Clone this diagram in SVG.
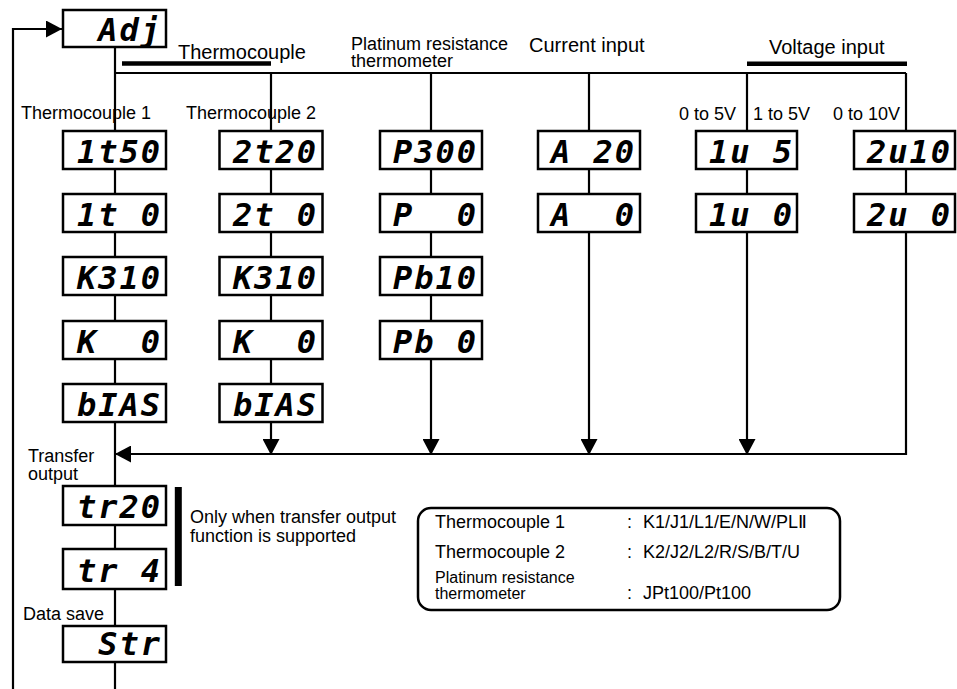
<svg xmlns="http://www.w3.org/2000/svg" width="957" height="689" viewBox="0 0 957 689">
<style>
.disp{fill:#fff;stroke:#000;stroke-width:2.5}
.seg{font-family:'DejaVu Sans Mono','Liberation Mono',monospace;font-weight:bold;font-style:oblique;font-size:32px;letter-spacing:2px;white-space:pre;fill:#000}
.lbl{font-family:'Liberation Sans',Arial,Helvetica,sans-serif;font-size:18px;fill:#000}
.big{font-size:20px}
.sm{font-size:16px}
.ln{fill:none;stroke:#000;stroke-width:2.2}
.arr{marker-end:url(#ah)}
.bar{stroke:#000;fill:none}
</style>
<defs>
<marker id="ah" markerUnits="userSpaceOnUse" markerWidth="16" markerHeight="17" viewBox="0 0 16 17" refX="16" refY="8.5" orient="auto"><path d="M0,0 L16,8.5 L0,17 Z" fill="#000"/></marker>
</defs>
<rect width="957" height="689" fill="#fff"/>

<g id="connectors">
<path class="ln arr" d="M13,689 V29 H62"/>
<path class="ln" d="M115,47 V131"/>
<path class="ln" d="M115,73 H906"/>
<path class="ln" d="M271,73 V131 M431,73 V131 M589,73 V131 M747,73 V131 M906,73 V131"/>
<path class="ln" d="M115,169 V194 M115,232 V257 M115,295 V321 M115,359 V384 M115,422 V486 M115,525 V549 M115,589 V626 M115,662 V689"/>
<path class="ln" d="M271,169 V194 M271,232 V257 M271,295 V321 M271,359 V384"/>
<path class="ln arr" d="M271,422 V455"/>
<path class="ln" d="M431,169 V194 M431,232 V257 M431,295 V321"/>
<path class="ln arr" d="M431,359 V455"/>
<path class="ln" d="M589,169 V194"/>
<path class="ln arr" d="M589,232 V455"/>
<path class="ln" d="M747,169 V194"/>
<path class="ln arr" d="M747,232 V455"/>
<path class="ln" d="M906,169 V194"/>
<path class="ln arr" d="M906,232 V454 H115"/>
</g>

<g id="brackets">
<line class="bar" x1="122" y1="63.5" x2="271" y2="63.5" stroke-width="4.5"/>
<line class="bar" x1="747" y1="63.7" x2="907" y2="63.7" stroke-width="4.5"/>
<line class="bar" x1="178.3" y1="487" x2="178.3" y2="586" stroke-width="7"/>
</g>

<g id="labels">
<text class="lbl big" x="178" y="59">Thermocouple</text>
<text class="lbl" x="351" y="50">Platinum resistance</text>
<text class="lbl" x="351" y="67">thermometer</text>
<text class="lbl big" x="529" y="52">Current input</text>
<text class="lbl big" x="769" y="54">Voltage input</text>
<text class="lbl" x="21" y="119">Thermocouple 1</text>
<text class="lbl" x="186" y="119">Thermocouple 2</text>
<text class="lbl" x="679" y="120">0 to 5V</text>
<text class="lbl" x="753" y="120">1 to 5V</text>
<text class="lbl" x="833" y="120">0 to 10V</text>
<text class="lbl" x="28" y="462">Transfer</text>
<text class="lbl" x="28" y="480">output</text>
<text class="lbl" x="23" y="620">Data save</text>
<text class="lbl" x="190" y="523">Only when transfer output</text>
<text class="lbl" x="190" y="542">function is supported</text>
</g>

<g id="n-adj"><rect class="disp" x="63" y="10" width="103" height="37"/><text class="seg" x="77" y="41"> Adj</text></g>

<g id="n-1t50"><rect class="disp" x="63" y="131" width="103" height="38"/><text class="seg" x="77" y="163">1t50</text></g>
<g id="n-1t0"><rect class="disp" x="63" y="194" width="103" height="38"/><text class="seg" x="77" y="226">1t 0</text></g>
<g id="n-k310a"><rect class="disp" x="63" y="257" width="103" height="38"/><text class="seg" x="77" y="289">K310</text></g>
<g id="n-k0a"><rect class="disp" x="63" y="321" width="103" height="38"/><text class="seg" x="77" y="353">K  0</text></g>
<g id="n-biasa"><rect class="disp" x="63" y="384" width="103" height="38"/><text class="seg" x="77" y="416">bIAS</text></g>

<g id="n-2t20"><rect class="disp" x="219.5" y="131" width="103" height="38"/><text class="seg" x="233" y="163">2t20</text></g>
<g id="n-2t0"><rect class="disp" x="219.5" y="194" width="103" height="38"/><text class="seg" x="233" y="226">2t 0</text></g>
<g id="n-k310b"><rect class="disp" x="219.5" y="257" width="103" height="38"/><text class="seg" x="233" y="289">K310</text></g>
<g id="n-k0b"><rect class="disp" x="219.5" y="321" width="103" height="38"/><text class="seg" x="233" y="353">K  0</text></g>
<g id="n-biasb"><rect class="disp" x="219.5" y="384" width="103" height="38"/><text class="seg" x="233" y="416">bIAS</text></g>

<g id="n-p300"><rect class="disp" x="380" y="131" width="102" height="38"/><text class="seg" x="393" y="163">P300</text></g>
<g id="n-p0"><rect class="disp" x="380" y="194" width="102" height="38"/><text class="seg" x="393" y="226">P  0</text></g>
<g id="n-pb10"><rect class="disp" x="380" y="257" width="102" height="38"/><text class="seg" x="393" y="289">Pb10</text></g>
<g id="n-pb0"><rect class="disp" x="380" y="321" width="102" height="38"/><text class="seg" x="393" y="353">Pb 0</text></g>

<g id="n-a20"><rect class="disp" x="538" y="131" width="102" height="38"/><text class="seg" x="551" y="163">A 20</text></g>
<g id="n-a0"><rect class="disp" x="538" y="194" width="102" height="38"/><text class="seg" x="551" y="226">A  0</text></g>

<g id="n-1u5"><rect class="disp" x="696" y="131" width="101" height="38"/><text class="seg" x="709" y="163">1u 5</text></g>
<g id="n-1u0"><rect class="disp" x="696" y="194" width="101" height="38"/><text class="seg" x="709" y="226">1u 0</text></g>

<g id="n-2u10"><rect class="disp" x="854" y="131" width="101" height="38"/><text class="seg" x="867" y="163">2u10</text></g>
<g id="n-2u0"><rect class="disp" x="854" y="194" width="101" height="38"/><text class="seg" x="867" y="226">2u 0</text></g>

<g id="n-tr20"><rect class="disp" x="63" y="486" width="103" height="39"/><text class="seg" x="77" y="518">tr20</text></g>
<g id="n-tr4"><rect class="disp" x="63" y="549" width="103" height="40"/><text class="seg" x="77" y="582">tr 4</text></g>
<g id="n-str"><rect class="disp" x="63" y="626" width="103" height="36"/><text class="seg" x="77" y="655"> Str</text></g>

<g id="legend">
<rect x="418" y="508" width="422" height="102" rx="13" fill="#fff" stroke="#000" stroke-width="2.5"/>
<text class="lbl" x="435" y="528">Thermocouple 1</text>
<text class="lbl" x="627" y="528">:</text>
<text class="lbl" x="643" y="528">K1/J1/L1/E/N/W/PLⅡ</text>
<text class="lbl" x="435" y="558">Thermocouple 2</text>
<text class="lbl" x="627" y="558">:</text>
<text class="lbl" x="643" y="558">K2/J2/L2/R/S/B/T/U</text>
<text class="lbl sm" x="435" y="583">Platinum resistance</text>
<text class="lbl sm" x="435" y="599">thermometer</text>
<text class="lbl" x="627" y="599">:</text>
<text class="lbl" x="643" y="599">JPt100/Pt100</text>
</g>
</svg>
